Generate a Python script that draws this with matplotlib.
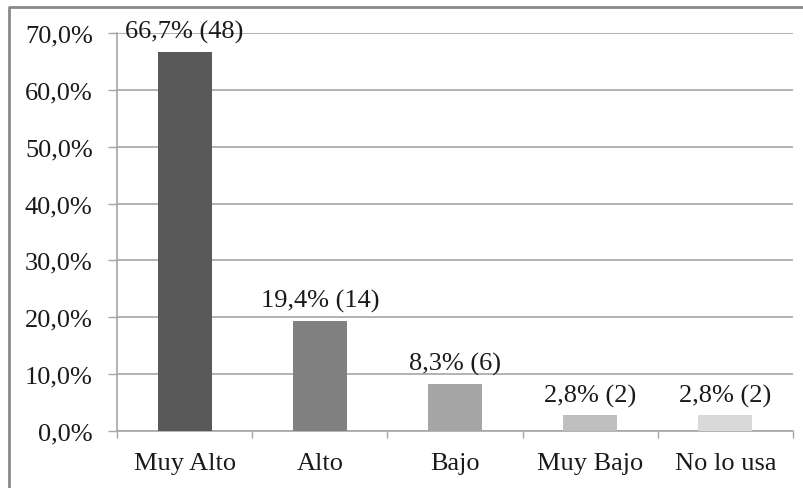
import numpy as np
import matplotlib.pyplot as plt
from matplotlib.lines import Line2D

categories = ["Muy Alto", "Alto", "Bajo", "Muy Bajo", "No lo usa"]
percent = [66.7, 19.4, 8.3, 2.8, 2.8]
counts = [48, 14, 6, 2, 2]
colors = ["#595959", "#808080", "#a6a6a6", "#bfbfbf", "#d9d9d9"]

plt.rcParams['font.family'] = ['Liberation Serif', 'DejaVu Serif']
fs = 19

fig = plt.figure(figsize=(8.04, 4.89), dpi=100)
ax = fig.add_axes([0.1455, 0.1166, 0.8408, 0.8139])

x = np.arange(len(categories))
ax.bar(x, percent, width=0.4, color=colors, zorder=3)

for xi, p, n in zip(x, percent, counts):
    label = ("%.1f" % p).replace(".", ",") + "% (" + str(n) + ")"
    ax.annotate(label, (xi, p), xytext=(0, 6), textcoords='offset points',
                ha='center', va='bottom', fontsize=fs, color='#1a1a1a', zorder=4)

ax.set_xlim(-0.5, len(categories) - 0.5)
ax.set_ylim(0, 70)
yt = np.arange(0, 71, 10)
ax.set_yticks(yt)
ax.set_yticklabels([("%.1f" % v).replace(".", ",") + "%" for v in yt])
ax.yaxis.grid(True, color='#a6a6a6', linewidth=1.2, zorder=0)
ax.set_axisbelow(True)

ax.set_xticks(x)
ax.set_xticklabels(categories)
# category boundary ticks below the axis
ax.set_xticks(np.arange(-0.5, len(categories)), minor=True)
ax.tick_params(axis='x', which='major', length=0, labelsize=fs, pad=15,
               labelcolor='#1a1a1a')
ax.tick_params(axis='x', which='minor', length=5, color='#a6a6a6', width=1)
ax.tick_params(axis='y', length=6.5, color='#a6a6a6', width=1, labelsize=fs,
               pad=11, labelcolor='#1a1a1a')

for s in ['top', 'right']:
    ax.spines[s].set_visible(False)
ax.spines['left'].set_color('#a6a6a6')
ax.spines['bottom'].set_color('#a6a6a6')
ax.spines['left'].set_linewidth(1.2)
ax.spines['bottom'].set_linewidth(1.2)

# outer frame on the left and top edges
fig.add_artist(Line2D([9 / 804, 9 / 804, 1.0], [0.0, 1 - 8 / 489, 1 - 8 / 489],
                      transform=fig.transFigure, color='#898989', linewidth=2))

fig.savefig("out.png", dpi=100)
